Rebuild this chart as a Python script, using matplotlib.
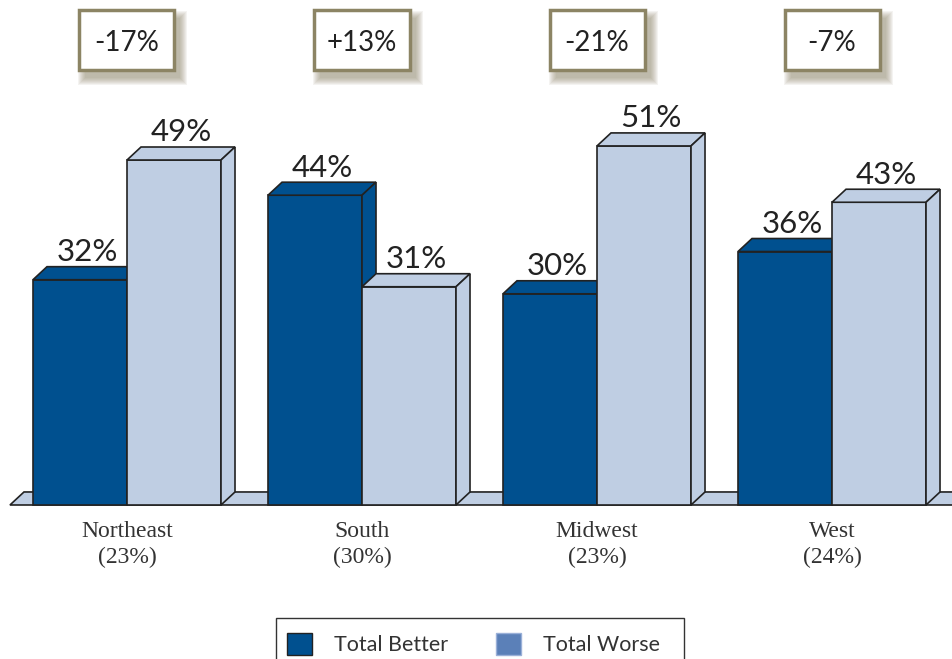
import matplotlib.pyplot as plt
from matplotlib.patches import Polygon, Rectangle, Patch

# data
regions = ["Northeast", "South", "Midwest", "West"]
region_share = ["(23%)", "(30%)", "(23%)", "(24%)"]
better = [32, 44, 30, 36]
worse = [49, 31, 51, 43]
net = ["-17%", "+13%", "-21%", "-7%"]

dark = "#00508F"
light = "#BFCEE3"
edge = "#222222"

fig = plt.figure(figsize=(9.52, 6.59), dpi=100)
ax = fig.add_axes([0, 0, 1, 1])
ax.set_xlim(-0.5404, 3.5106)
ax.set_ylim(-21.875, 71.73)
ax.axis("off")

w = 0.4      # bar width
dx = 0.0596  # depth offset (x)
dy = 1.85    # depth offset (y)
px, py = 1 / 235, 1 / 7.04  # one pixel in data units

# floor
floor = Polygon([(-0.498, 0), (3.7, 0), (3.7 + dx, dy), (-0.498 + dx, dy)],
                closed=True, facecolor=light, edgecolor=edge, lw=1.2, zorder=1)
ax.add_patch(floor)


def bar3d(x0, h, color, z):
    ax.bar(x0, h, width=w, align="edge", color=color, edgecolor=edge, lw=1.2, zorder=z)
    top = Polygon([(x0, h), (x0 + w, h), (x0 + w + dx, h + dy), (x0 + dx, h + dy)],
                  closed=True, facecolor=color, edgecolor=edge, lw=1.2, zorder=z)
    side = Polygon([(x0 + w, 0), (x0 + w + dx, dy), (x0 + w + dx, h + dy), (x0 + w, h)],
                   closed=True, facecolor=color, edgecolor=edge, lw=1.2, zorder=z)
    ax.add_patch(top)
    ax.add_patch(side)


for i in range(len(regions)):
    bar3d(i - w, better[i], dark, 2 + 2 * i)
    bar3d(i, worse[i], light, 3 + 2 * i)

    ax.text(i - w / 2 + dx / 2, better[i] + dy + 0.8, f"{better[i]}%", ha="center",
            va="baseline", fontsize=22.5, family="Lato", color="#222222", zorder=20)
    ax.text(i + w / 2 + dx / 2, worse[i] + dy + 0.8, f"{worse[i]}%", ha="center",
            va="baseline", fontsize=22.5, family="Lato", color="#222222", zorder=20)

    ax.text(i, -3.8, regions[i], ha="center", va="center", fontsize=17,
            family="Liberation Serif", color="#333333")
    ax.text(i, -7.5, region_share[i], ha="center", va="center", fontsize=17,
            family="Liberation Serif", color="#333333")

    # net difference box with soft shadow
    bw, bh = 95 * px, 60 * py
    cy = 66.05
    for s in range(7, -1, -1):
        ax.add_patch(Rectangle((i - bw / 2 + (6 - s) * px, cy - bh / 2 - (8 + s) * py),
                               bw + 2 * s * px, bh + 2 * s * py,
                               facecolor="#8A8468", edgecolor="none", alpha=0.09, zorder=5))
    ax.add_patch(Rectangle((i - bw / 2, cy - bh / 2), bw, bh, facecolor="white",
                           edgecolor="#8C8464", lw=2.5, zorder=6))
    ax.text(i, cy - 0.4, net[i], ha="center", va="center", fontsize=20, family="Lato",
            color="#222222", zorder=7)

# legend (frame drawn separately so it can be wider on the right)
handles = [Patch(facecolor=dark, edgecolor=edge, label="Total Better"),
           Patch(facecolor="#5B80B8", edgecolor="#9AB0D8", label="Total Worse")]
leg = fig.legend(handles=handles, loc="upper left", bbox_to_anchor=(0.29, 0.056),
                 ncol=2, fontsize=15.5, frameon=False,
                 handlelength=1.17, handleheight=1.17, handletextpad=1.0,
                 columnspacing=2.25, borderpad=0.5, borderaxespad=0)
for t in leg.get_texts():
    t.set_family("Lato")
    t.set_color("#333333")
fig.add_artist(Rectangle((276 / 952, -0.02), 408 / 952, 0.02 + 41 / 659,
                         transform=fig.transFigure, facecolor="none",
                         edgecolor="#333333", lw=1.0))

fig.savefig("out.png", dpi=100)
